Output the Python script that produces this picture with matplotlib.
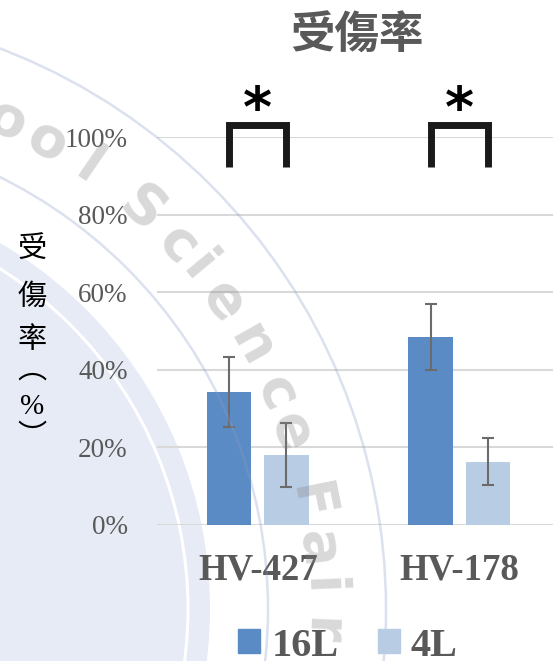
import numpy as np
import matplotlib
matplotlib.use("Agg")
import matplotlib.pyplot as plt
from matplotlib.patches import Patch, Circle

# data
groups = ["HV-427", "HV-178"]
series = ["16L", "4L"]
rate_16L = [34.3, 48.4]
err_16L = [9.0, 8.5]
rate_4L = [18.0, 16.3]
err_4L = [8.3, 6.0]
sig_marks = ["*", "*"]
yticks = [0, 20, 40, 60, 80, 100]

c16 = "#5b8bc5"
c4 = "#b8cce4"
grey_txt = "#595959"

W, H = 553, 661
fig = plt.figure(figsize=(W / 100, H / 100), dpi=100)

# watermark layer (pixel coords, y down)
bg = fig.add_axes([0, 0, 1, 1], zorder=0)
bg.set_xlim(0, W)
bg.set_ylim(H, 0)
bg.axis("off")
cx, cy = -214, 609
bg.add_patch(Circle((cx, cy), 424, facecolor="#e7ebf5", edgecolor="none"))
bg.add_patch(Circle((cx, cy), 402, fill=False, edgecolor="white", lw=2.2))

ov = fig.add_axes([0, 0, 1, 1], zorder=3)
ov.set_xlim(0, W)
ov.set_ylim(H, 0)
ov.axis("off")
for r in (482, 600):
    ov.add_patch(Circle((cx, cy), r, fill=False, edgecolor="#8a9cc8",
                        lw=1.8, alpha=0.3))
# visible part of the logo text "School Science Fair"
wm_chars = list("oolScienceFair")
wm_angles = [65.6, 60.8, 55.6, 48.3, 42.9, 39.7, 35.1,
             29.5, 23.8, 19.3, 11.5, 6.5, 2.4, -2.4]
for ch, a in zip(wm_chars, wm_angles):
    t = np.deg2rad(a)
    ov.text(cx + 535 * np.cos(t), cy - 535 * np.sin(t), ch, rotation=a - 90,
            rotation_mode="anchor", ha="center", va="center", fontsize=40,
            family="DejaVu Sans", fontweight="bold", color="#808080", alpha=0.3)

# main chart
ax = fig.add_axes([157 / W, (H - 524.7) / H, (W - 157) / W, 387.4 / H], zorder=1)
ax.patch.set_visible(False)
x = np.arange(len(groups))
w = 0.2216
off = 0.1423
err_kw = dict(ecolor="#6b6b6b", elinewidth=1.5, capsize=4.3, capthick=1.5)
ax.bar(x - off, rate_16L, w, color=c16, yerr=err_16L, error_kw=err_kw, zorder=2)
ax.bar(x + off, rate_4L, w, color=c4, yerr=err_4L, error_kw=err_kw, zorder=2)

ax.set_xlim(-0.5, 1.4646)
ax.set_ylim(0, 100)
ax.set_yticks(yticks)
ax.set_yticklabels([f"{v}%" for v in yticks], family="Liberation Serif",
                   fontsize=19.5, color=grey_txt)
ax.set_xticks(x)
ax.set_xticklabels(groups, family="Liberation Serif", fontweight="bold",
                   fontsize=26.5, color=grey_txt)
ax.tick_params(axis="y", length=0, pad=21)
ax.tick_params(axis="x", length=0, pad=20)
ax.yaxis.grid(True, color="#d9d9d9", lw=1.5, zorder=0)
ax.set_axisbelow(True)
for s in ax.spines.values():
    s.set_visible(False)

# significance brackets
for xi, mark in zip(x, sig_marks):
    ax.plot([xi - off, xi - off, xi + off, xi + off], [92.4, 103.1, 103.1, 92.4],
            color="#1a1a1a", lw=5, clip_on=False, solid_joinstyle="miter",
            solid_capstyle="butt")
    ax.text(xi, 102.8, mark, ha="center", va="baseline", fontsize=40,
            fontweight="bold", family="DejaVu Sans", color="black")

# title
fig.text(357 / W, (H - 36) / H, "受傷率", ha="center", va="center",
         fontsize=32, fontweight="bold", family="Noto Sans CJK TC", color=grey_txt)

# vertical y label
ylab = ["受", "傷", "率", "︵", "%", "︶"]
ylab_pos = [250, 297, 340, 370, 407, 437]
for ch, yp in zip(ylab, ylab_pos):
    fam = ["Liberation Serif"] if ch == "%" else ["Noto Sans CJK TC", "DejaVu Sans"]
    fig.text(31.7 / W, (H - yp) / H, ch, ha="center", va="center",
             fontsize=21, family=fam, color="black")

handles = [Patch(color=c16), Patch(color=c4)]
fig.legend(handles, series, loc="center", bbox_to_anchor=(348 / W, (H - 646) / H),
           ncol=2, frameon=False, borderpad=0, handlelength=0.55,
           handleheight=0.55, handletextpad=0.27, columnspacing=0.98,
           labelcolor=grey_txt,
           prop={"family": "Liberation Serif", "weight": "bold", "size": 29})

fig.savefig("out.png", dpi=100)
